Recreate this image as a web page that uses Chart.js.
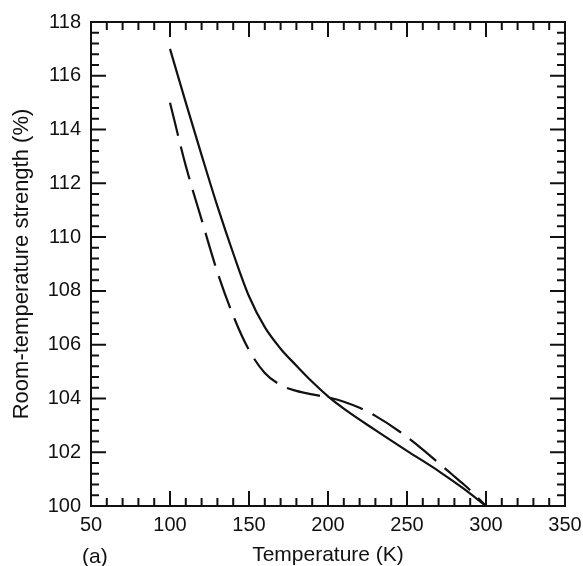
<!DOCTYPE html>
<html>
<head>
<meta charset="utf-8">
<script src="https://cdn.jsdelivr.net/npm/chart.js@4.4.1/dist/chart.umd.min.js"></script>
<style>
  html, body { margin: 0; padding: 0; background: #fff; }
  #wrap { width: 583px; height: 566px; }
</style>
</head>
<body>
<div id="wrap"><canvas id="chart" width="583" height="566"></canvas></div>
<script>
  // solid curve
  var tempSolid = [100, 110, 120, 130, 140, 150, 160, 170, 180, 190, 200, 210, 230, 250, 270, 285, 300];
  var strengthSolid = [117.0, 115.0, 113.05, 111.15, 109.4, 107.8, 106.65, 105.85, 105.22, 104.62, 104.08, 103.62, 102.82, 102.05, 101.3, 100.68, 100.0];

  // dashed curve
  var tempDashed = [100, 110, 120, 130, 140, 150, 160, 170, 180, 190, 200, 210, 220, 230, 245, 260, 271, 278, 286, 293, 300];
  var strengthDashed = [115.0, 112.65, 110.65, 108.7, 107.08, 105.8, 104.95, 104.5, 104.28, 104.15, 104.04, 103.88, 103.65, 103.35, 102.78, 102.1, 101.55, 101.2, 100.8, 100.42, 100.0];

  var xMin = 50, xMax = 350, xMajor = 50, xMinor = 10;
  var yMin = 100, yMax = 118, yMajor = 2, yMinor = 0.4;

  var INK = "#111";
  var FONT = "'Liberation Sans', Arial, Helvetica, sans-serif";

  function toPoints(xs, ys) {
    return xs.map(function (x, i) { return { x: x, y: ys[i] }; });
  }

  // frame + inward ticks on all four sides
  var frameTicks = {
    id: "frameTicks",
    afterDatasetsDraw: function (chart) {
      var ctx = chart.ctx, a = chart.chartArea;
      var xs = chart.scales.x, ys = chart.scales.y;
      ctx.save();
      ctx.strokeStyle = INK;
      ctx.lineWidth = 2;
      ctx.strokeRect(a.left, a.top, a.right - a.left, a.bottom - a.top);
      ctx.beginPath();
      var n = Math.round((xMax - xMin) / xMinor);
      for (var i = 0; i <= n; i++) {
        var v = xMin + i * xMinor;
        var px = xs.getPixelForValue(v);
        var len = (Math.abs(v % xMajor) < 1e-6) ? 15 : 8;
        ctx.moveTo(px, a.bottom); ctx.lineTo(px, a.bottom - len);
        ctx.moveTo(px, a.top); ctx.lineTo(px, a.top + len);
      }
      var m = Math.round((yMax - yMin) / yMinor);
      for (var j = 0; j <= m; j++) {
        var w = yMin + j * yMinor;
        var py = ys.getPixelForValue(w);
        var r = (w - yMin) / yMajor;
        var len2 = (Math.abs(r - Math.round(r)) < 1e-6) ? 15 : 8;
        ctx.moveTo(a.left, py); ctx.lineTo(a.left + len2, py);
        ctx.moveTo(a.right, py); ctx.lineTo(a.right - len2, py);
      }
      ctx.stroke();
      // panel tag
      ctx.fillStyle = INK;
      ctx.font = "21px " + FONT;
      ctx.textBaseline = "middle";
      ctx.textAlign = "left";
      ctx.fillText("(a)", a.left - 9, 557);
      ctx.restore();
    }
  };

  Chart.defaults.font.family = FONT;
  Chart.defaults.color = INK;

  new Chart(document.getElementById("chart"), {
    type: "line",
    data: {
      datasets: [
        {
          label: "solid",
          data: toPoints(tempSolid, strengthSolid),
          borderColor: INK,
          borderWidth: 2.2,
          pointRadius: 0,
          cubicInterpolationMode: "monotone",
          fill: false,
          clip: false
        },
        {
          label: "dashed",
          data: toPoints(tempDashed, strengthDashed),
          borderColor: INK,
          borderWidth: 2.2,
          borderDash: [34, 11],
          pointRadius: 0,
          cubicInterpolationMode: "monotone",
          fill: false,
          clip: false
        }
      ]
    },
    options: {
      responsive: false,
      animation: false,
      layout: { padding: { top: 22, right: 18, left: 0, bottom: 0 } },
      plugins: { legend: { display: false }, tooltip: { enabled: false } },
      scales: {
        x: {
          type: "linear",
          min: xMin, max: xMax,
          grid: { display: false, drawTicks: false },
          border: { display: false },
          ticks: { stepSize: xMajor, padding: 7, font: { size: 20 }, color: INK, maxRotation: 0 },
          title: { display: true, text: "Temperature (K)", font: { size: 21, lineHeight: 1 }, padding: { top: 0, bottom: 0 }, color: INK },
          afterFit: function (s) { s.height = 60; s.paddingRight = 0; s.paddingLeft = 0; }
        },
        y: {
          min: yMin, max: yMax,
          grid: { display: false, drawTicks: false },
          border: { display: false },
          ticks: { stepSize: yMajor, padding: 10, font: { size: 20 }, color: INK },
          title: { display: true, text: "Room-temperature strength (%)", font: { size: 22, lineHeight: 1 }, padding: { top: 11, bottom: 0 }, color: INK },
          afterFit: function (s) { s.width = 91; s.paddingTop = 0; s.paddingBottom = 0; }
        }
      }
    },
    plugins: [frameTicks]
  });
</script>
</body>
</html>
